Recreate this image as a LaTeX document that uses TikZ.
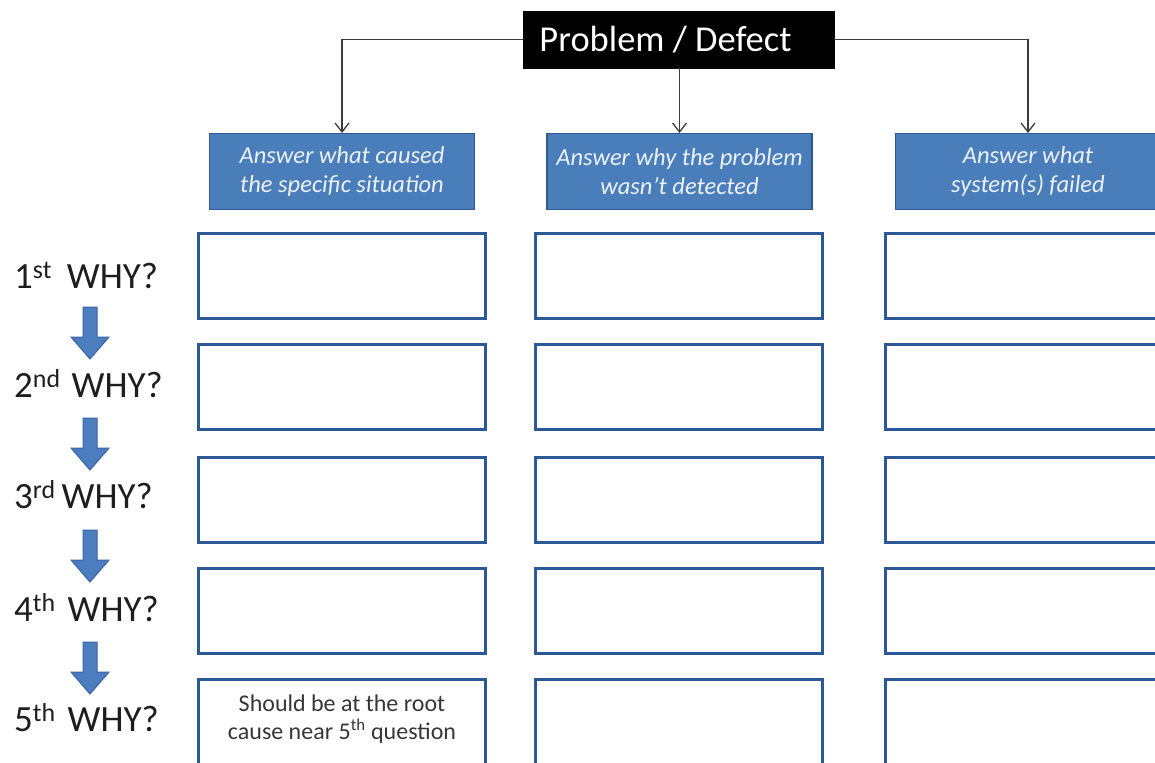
\documentclass[tikz,border=0pt]{standalone}
\usepackage{fontspec}
\setmainfont{Carlito}
\usetikzlibrary{arrows.meta}
\definecolor{hdrblue}{RGB}{74,126,187}
\definecolor{hdredge}{RGB}{50,90,145}
\definecolor{boxedge}{RGB}{44,88,150}
\definecolor{arrowblue}{RGB}{76,125,190}
\definecolor{arrowedge}{RGB}{55,100,165}
\definecolor{hdrtext}{RGB}{236,241,250}
\definecolor{conncol}{RGB}{60,60,60}
\definecolor{labelcol}{RGB}{30,30,30}
\definecolor{notecol}{RGB}{55,55,55}
\begin{document}
\begin{tikzpicture}[x=1pt,y=-1pt,
  topbox/.style={fill=black, draw=black, minimum width=311pt, minimum height=57pt, inner sep=0pt, text=white, font=\fontsize{36.5}{40}\selectfont},
  hdrbox/.style={fill=hdrblue, draw=hdredge, line width=1.5pt, minimum width=265pt, minimum height=75.5pt, inner sep=0pt, text=hdrtext, align=center, font=\fontsize{24.5}{29}\selectfont\itshape},
  ansbox/.style={draw=boxedge, fill=white, line width=3.5pt, minimum width=287pt, minimum height=85pt, inner sep=0pt},
  notetext/.style={align=center, text=notecol, inner sep=0pt, font=\fontsize{24}{28}\selectfont},
  whylabel/.style={anchor=base west, inner sep=0pt, text=labelcol, font=\fontsize{37}{42}\selectfont},
  conn/.style={draw=conncol, line width=1.3pt, -{Straight Barb[length=9pt,width=14pt]}},
  downarrow/.pic={\filldraw[fill=arrowblue, draw=arrowedge, line width=1pt] (-7,0) -- (7,0) -- (7,30) -- (19,30) -- (0,52) -- (-19,30) -- (-7,30) -- cycle;}
]
\useasboundingbox (0,0) rectangle (1155,762);
\clip (0,0) rectangle (1155,762);

% top problem box
\node[topbox] (pd) at (678.5,39.5) {Problem / Defect\kern26pt};

% header boxes
\node[hdrbox] (b1) at (342,171.5) {Answer what caused\\the specific situation};
\node[hdrbox] (b2) at (679.5,171.5) {Answer why the problem\\wasn’t detected};
\node[hdrbox] (b3) at (1028,171.5) {Answer what\\system(s) failed};

% connectors
\draw[conn] (pd.west) -| (b1.north);
\draw[conn] (pd.south -| b2.north) -- (b2.north);
\draw[conn] (pd.east) -| (b3.north);

% answer boxes
\foreach \r/\y in {1/276,2/387,3/500,4/611,5/722}{
  \node[ansbox] (r\r c1) at (342,\y) {};
  \node[ansbox] (r\r c2) at (679,\y) {};
  \node[ansbox] (r\r c3) at (1029,\y) {};
}
\node[notetext] (note) at (342,719) {Should be at the root\\cause near 5\textsuperscript{th} question};

% why labels
\node[whylabel] (w1) at (14,288) {1\textsuperscript{st}\hspace{15pt}WHY?};
\node[whylabel] (w2) at (14,397) {2\textsuperscript{nd}\hspace{11pt}WHY?};
\node[whylabel] (w3) at (14,508) {3\textsuperscript{rd}\hspace{6pt}WHY?};
\node[whylabel] (w4) at (14,621) {4\textsuperscript{th}\hspace{12pt}WHY?};
\node[whylabel] (w5) at (14,731) {5\textsuperscript{th}\hspace{12pt}WHY?};

% block arrows
\pic at (90,307) {downarrow};
\pic at (90,418) {downarrow};
\pic at (90,530) {downarrow};
\pic at (90,642) {downarrow};
\end{tikzpicture}
\end{document}
